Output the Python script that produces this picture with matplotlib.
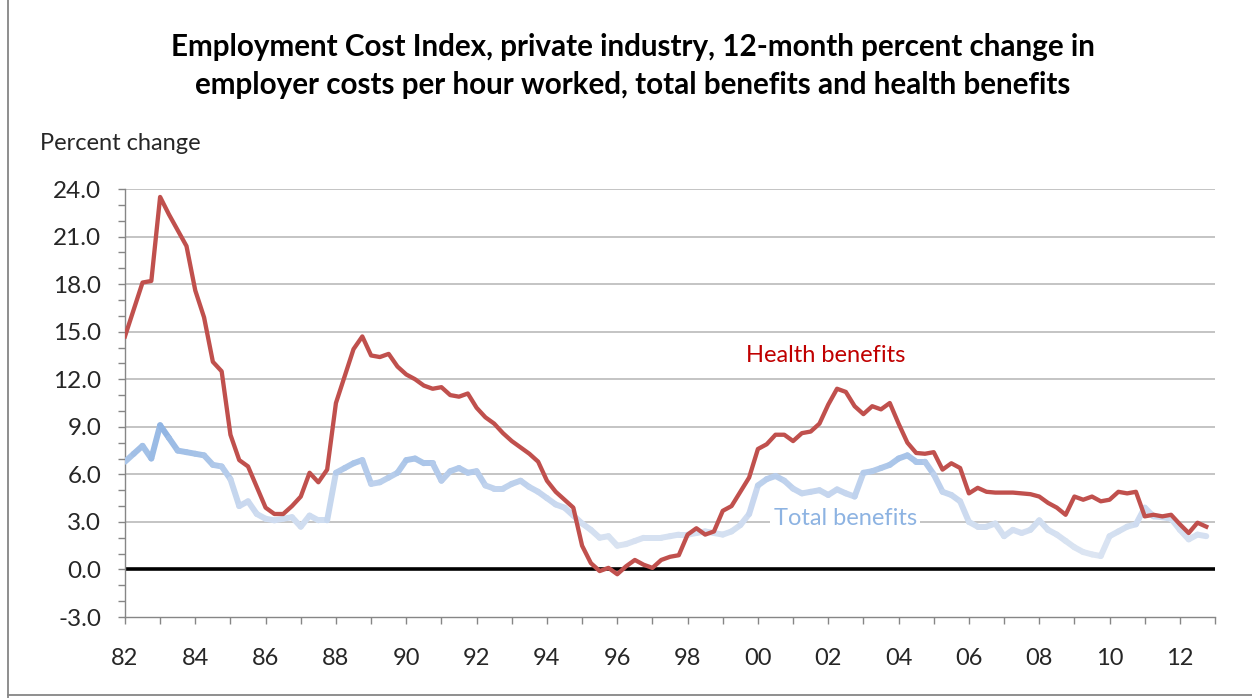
import numpy as np
import matplotlib
matplotlib.use("Agg")
import matplotlib.pyplot as plt
from matplotlib.collections import LineCollection
from matplotlib.colors import LinearSegmentedColormap, Normalize
from matplotlib.ticker import MultipleLocator, FixedLocator, FixedFormatter
from matplotlib.lines import Line2D

plt.rcParams['font.family'] = ['Lato', 'DejaVu Sans']

# quarterly values, 1982 Q1 .. 2012 Q4
start_year = 1982
health = [14.7, 16.4, 18.1, 18.2, 23.5, 22.4, 21.4, 20.4, 17.6, 15.9, 13.1, 12.5, 8.5, 6.9, 6.5, 5.2,
          3.9, 3.5, 3.5, 4.0, 4.6, 6.1, 5.5, 6.3, 10.5, 12.2, 13.9, 14.7, 13.5, 13.4, 13.6, 12.8,
          12.3, 12.0, 11.6, 11.4, 11.5, 11.0, 10.9, 11.1, 10.2, 9.6, 9.2, 8.6, 8.1, 7.7, 7.3, 6.8,
          5.6, 4.9, 4.4, 3.9, 1.5, 0.4, -0.1, 0.1, -0.3, 0.2, 0.6, 0.3, 0.1, 0.6, 0.8, 0.9,
          2.2, 2.6, 2.2, 2.4, 3.7, 4.0, 4.9, 5.8, 7.6, 7.9, 8.5, 8.5, 8.1, 8.6, 8.7, 9.2,
          10.4, 11.4, 11.2, 10.3, 9.8, 10.3, 10.1, 10.5, 9.2, 8.0, 7.35, 7.3, 7.4, 6.3, 6.7, 6.4,
          4.8, 5.15, 4.9, 4.85, 4.85, 4.85, 4.8, 4.75, 4.6, 4.2, 3.9, 3.45, 4.6, 4.4, 4.6, 4.3,
          4.4, 4.9, 4.8, 4.9, 3.35, 3.45, 3.35, 3.45, 2.85, 2.3, 2.95, 2.7]
total = [6.8, 7.3, 7.8, 7.0, 9.1, 8.3, 7.5, 7.4, 7.3, 7.2, 6.6, 6.5, 5.7, 4.0, 4.3, 3.5,
         3.2, 3.1, 3.2, 3.3, 2.7, 3.4, 3.1, 3.1, 6.1, 6.4, 6.7, 6.9, 5.4, 5.5, 5.8, 6.1,
         6.9, 7.0, 6.7, 6.7, 5.6, 6.2, 6.4, 6.1, 6.2, 5.3, 5.1, 5.1, 5.4, 5.6, 5.2, 4.9,
         4.5, 4.1, 3.9, 3.4, 2.9, 2.5, 2.0, 2.1, 1.5, 1.6, 1.8, 2.0, 2.0, 2.0, 2.1, 2.2,
         2.2, 2.3, 2.4, 2.3, 2.2, 2.4, 2.8, 3.5, 5.3, 5.7, 5.9, 5.6, 5.1, 4.8, 4.9, 5.0,
         4.7, 5.05, 4.8, 4.6, 6.1, 6.2, 6.4, 6.6, 7.0, 7.2, 6.8, 6.8, 6.0, 4.9, 4.7, 4.3,
         3.0, 2.7, 2.7, 2.9, 2.1, 2.5, 2.3, 2.5, 3.1, 2.5, 2.2, 1.8, 1.4, 1.1, 0.95, 0.85,
         2.1, 2.4, 2.7, 2.85, 3.9, 3.35, 3.3, 3.2, 2.5, 1.9, 2.2, 2.1]
tick_years = list(range(1982, 2013, 2))
tick_labels = ["%02d" % (y % 100) for y in tick_years]
y_ticks = [-3.0, 0.0, 3.0, 6.0, 9.0, 12.0, 15.0, 18.0, 21.0, 24.0]

x = start_year + np.arange(len(health)) / 4.0

fig = plt.figure(figsize=(12.52, 6.98), dpi=100)
ax = fig.add_axes([0.0998, 0.116, 0.8707, 0.6132])

# grid + zero line
for v in y_ticks[2:]:
    ax.axhline(v, color='#BFBFBF', lw=1.3, zorder=1)
ax.axhline(0, color='black', lw=2.6, zorder=2)

# health benefits
ax.plot(x, health, color='#C0504D', lw=3.1, solid_joinstyle='round', zorder=4)

# total benefits, gradient by value like the Excel original
pts = np.column_stack([x, total])
segs = np.stack([pts[:-1], pts[1:]], axis=1)
mid = (np.array(total[:-1]) + np.array(total[1:])) / 2
cmap = LinearSegmentedColormap.from_list('tb', ['#DCE5F2', '#C4D5EE', '#8DB3E2'])
lc = LineCollection(segs, cmap=cmap, norm=Normalize(1.0, 9.0), linewidths=4.3,
                    capstyle='round', joinstyle='round', zorder=3)
lc.set_array(mid)
ax.add_collection(lc)

ax.set_xlim(1982, 2013)
ax.set_ylim(-3, 24)

ax.set_yticks(y_ticks)
ax.set_yticklabels(["%.1f" % v for v in y_ticks])
ax.yaxis.set_minor_locator(MultipleLocator(1))
ax.xaxis.set_major_locator(FixedLocator(tick_years))
ax.xaxis.set_major_formatter(FixedFormatter(tick_labels))
ax.xaxis.set_minor_locator(MultipleLocator(1))

for s in ['top', 'right']:
    ax.spines[s].set_visible(False)
for s in ['left', 'bottom']:
    ax.spines[s].set_color('#868686')
    ax.spines[s].set_linewidth(1.0)
ax.tick_params(which='both', direction='out', color='#868686', width=1.0, length=5)
ax.tick_params(axis='y', which='major', labelsize=17.5, pad=12, labelcolor='#262626')
ax.tick_params(axis='x', which='major', labelsize=17, pad=17, labelcolor='#262626')

ax.text(1999.66, 13.5, "Health benefits", color='#C00000', fontsize=17, ha='left', va='center', zorder=5)
ax.text(2000.45, 3.2, "Total benefits", color='#8DB3E2', fontsize=17, ha='left', va='center',
        zorder=5, bbox=dict(facecolor='white', edgecolor='none', pad=2.5))

fig.text(0.032, 0.795, "Percent change", fontsize=17, color='#262626', ha='left', va='center')
fig.text(0.5056, 0.905,
         "Employment Cost Index, private industry, 12-month percent change in\n"
         "employer costs per hour worked, total benefits and health benefits",
         fontsize=21.3, fontweight='bold', ha='center', va='center', linespacing=1.42)

# outer frame of the chart area
fig.add_artist(Line2D([0.0065, 0.0065], [0.0, 1.0], color='#868686', lw=1.3, transform=fig.transFigure))
fig.add_artist(Line2D([0.0065, 1.0], [0.005, 0.005], color='#868686', lw=1.3, transform=fig.transFigure))

fig.savefig("out.png", dpi=100)
